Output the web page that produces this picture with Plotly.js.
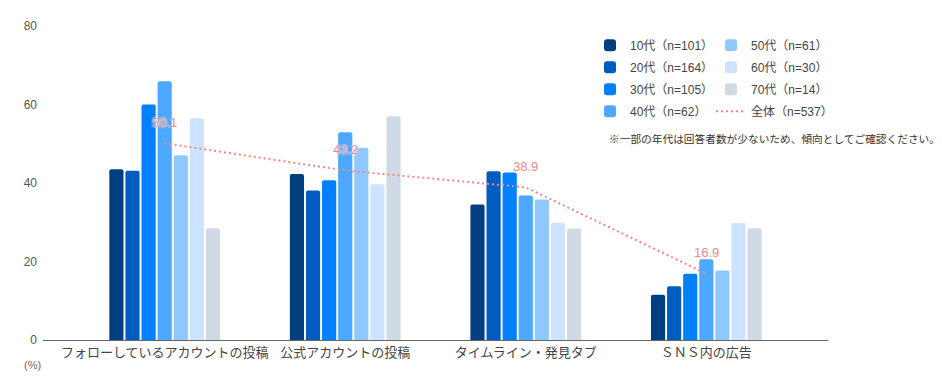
<!DOCTYPE html>
<html>
<head>
<meta charset="utf-8">
<script src="https://cdn.plot.ly/plotly-3.0.1.min.js"></script>
<style>html,body{margin:0;padding:0;background:#fff;}#chart{width:942px;height:379px;}</style>
</head>
<body>
<div id="chart"></div>
<script>
const categories = ["フォローしているアカウントの投稿", "公式アカウントの投稿", "タイムライン・発見タブ", "ＳＮＳ内の広告"];
const seriesNames = ["10代（n=101）", "20代（n=164）", "30代（n=105）", "40代（n=62）", "50代（n=61）", "60代（n=30）", "70代（n=14）"];
const age10 = [43.5, 42.3, 34.5, 11.5];
const age20 = [43.1, 38.1, 43.0, 13.7];
const age30 = [60.0, 40.7, 42.7, 16.9];
const age40 = [65.9, 52.9, 36.8, 20.6];
const age50 = [47.1, 49.0, 35.8, 17.7];
const age60 = [56.5, 39.7, 29.9, 29.8];
const age70 = [28.5, 57.0, 28.4, 28.5];
const totalName = "全体（n=537）";
const totalValues = [50.1, 43.2, 38.9, 16.9];
const yTicks = [0, 20, 40, 60, 80];

const colors = ["#023F80", "#005CBF", "#0080FF", "#4DA8FF", "#8FC8FF", "#CCE4FF", "#CFDAE6"];
const seriesValues = [age10, age20, age30, age40, age50, age60, age70];
const fontFam = "Arial, 'Liberation Sans', 'Noto Sans CJK JP', sans-serif";

const traces = seriesValues.map((vals, i) => ({
  type: "bar",
  name: seriesNames[i],
  x: categories,
  y: vals,
  marker: {color: colors[i], cornerradius: 2, line: {width: 0}},
  legend: i < 4 ? "legend" : "legend2",
  legendgroup: "g" + i,
  hoverinfo: "skip"
}));

traces.push({
  type: "scatter",
  mode: "lines",
  name: totalName,
  x: categories,
  y: totalValues,
  line: {color: "#F4877F", width: 2, dash: "2px,3px"},
  legend: "legend2",
  legendgroup: "gt",
  hoverinfo: "skip"
});

const annotations = totalValues.map((v, i) => ({
  x: categories[i],
  y: v,
  xref: "x",
  yref: "y",
  text: v.toFixed(1),
  showarrow: false,
  yshift: 21,
  font: {family: fontFam, size: 13, color: "#F4877F", shadow: "0px 0px 2px #fff, 0px 0px 2px #fff"}
}));

annotations.push({
  xref: "paper", yref: "paper",
  x: 1.145, y: 0.64,
  xanchor: "right", yanchor: "middle",
  text: "※一部の年代は回答者数が少ないため、傾向としてご確認ください。",
  showarrow: false,
  font: {family: fontFam, size: 10.7, color: "#333"}
});
annotations.push({
  xref: "paper", yref: "paper",
  x: -0.013, y: -0.08,
  xanchor: "center", yanchor: "middle",
  text: "(%)",
  showarrow: false,
  font: {family: fontFam, size: 11, color: "#666"}
});

const legendBase = {
  orientation: "v",
  xanchor: "left",
  yanchor: "top",
  y: 0.985,
  bgcolor: "rgba(0,0,0,0)",
  font: {family: fontFam, size: 12, color: "#444"},
  tracegroupgap: 3,
  traceorder: "grouped"
};

const layout = {
  width: 942,
  height: 379,
  margin: {l: 43, r: 114, t: 26, b: 39},
  paper_bgcolor: "#fff",
  plot_bgcolor: "#fff",
  barmode: "group",
  bargap: 0.376,
  bargroupgap: 0.12,
  font: {family: fontFam, color: "#444"},
  xaxis: {
    type: "category",
    range: [-0.674, 3.674],
    showline: true,
    linecolor: "#666",
    linewidth: 1,
    showgrid: false,
    ticks: "",
    tickfont: {family: fontFam, size: 13, color: "#444"},
    fixedrange: true
  },
  yaxis: {
    range: [0, 80],
    tickvals: yTicks,
    ticktext: yTicks.map(String),
    showgrid: false,
    zeroline: false,
    showline: false,
    ticks: "",
    ticklabelstandoff: 5,
    tickfont: {family: fontFam, size: 12, color: "#555"},
    fixedrange: true
  },
  legend: Object.assign({}, legendBase, {x: (590 - 43) / 785}),
  legend2: Object.assign({}, legendBase, {x: (711 - 43) / 785}),
  annotations: annotations,
  showlegend: true
};

Plotly.newPlot("chart", traces, layout, {displayModeBar: false, staticPlot: true});
</script>
</body>
</html>
